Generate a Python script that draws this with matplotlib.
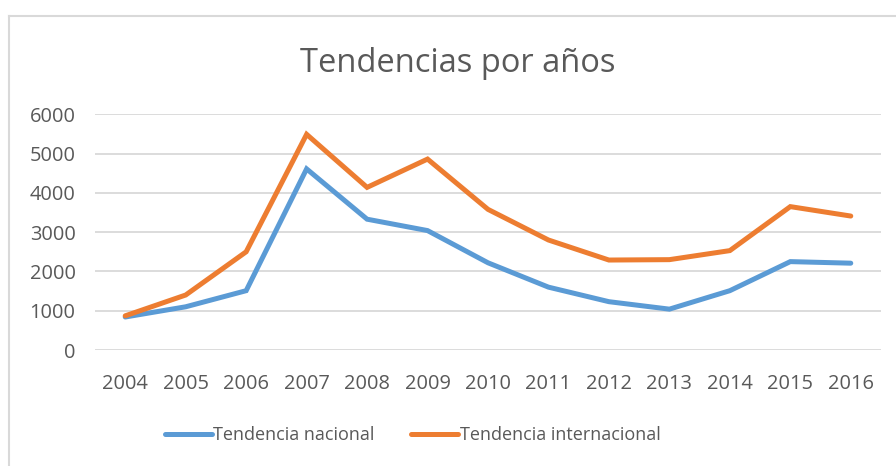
import matplotlib
matplotlib.use('Agg')
import matplotlib.pyplot as plt
from matplotlib.lines import Line2D

years = ['2004', '2005', '2006', '2007', '2008', '2009', '2010',
         '2011', '2012', '2013', '2014', '2015', '2016']
nacional = [840, 1100, 1510, 4610, 3330, 3040, 2220, 1600, 1230, 1040, 1510, 2250, 2210]
internacional = [870, 1400, 2500, 5490, 4140, 4860, 3580, 2800, 2290, 2300, 2530, 3650, 3410]
labels = ['Tendencia nacional', 'Tendencia internacional']

blue = '#5B9BD5'
orange = '#ED7D31'
txt = '#595959'
grid = '#D9D9D9'

plt.rcParams['font.family'] = ['Open Sans', 'DejaVu Sans']

fig = plt.figure(figsize=(8.96, 4.66), dpi=100)
ax = fig.add_axes([95/896, 1-350/466, (881-95)/896, (350-114.3)/466])

x = range(len(years))
ax.plot(x, nacional, color=blue, lw=3.6, solid_capstyle='round', solid_joinstyle='miter', label=labels[0])
ax.plot(x, internacional, color=orange, lw=3.6, solid_capstyle='round', solid_joinstyle='miter', label=labels[1])

ax.set_xlim(-0.5, len(years)-0.5)
ax.set_ylim(0, 6000)
ax.set_yticks(range(0, 6001, 1000))
ax.set_xticks(list(x))
ax.set_xticklabels(years)
ax.grid(axis='y', color=grid, lw=1.3)
ax.set_axisbelow(True)
for s in ax.spines.values():
    s.set_visible(False)
ax.tick_params(length=0, labelsize=14.4, labelcolor=txt)
ax.tick_params(axis='y', pad=14)
ax.tick_params(axis='x', pad=17)

fig.text(0.5106, 1-72/466, 'Tendencias por años', ha='center', va='baseline',
         fontsize=23.5, color=txt)

# chart border (left and top visible)
fig.add_artist(Line2D([8.5/896, 8.5/896], [0, 1-15.5/466], color=grid, lw=1.5))
fig.add_artist(Line2D([8.5/896, 1], [1-15.5/466, 1-15.5/466], color=grid, lw=1.5))

fig.legend(loc='center', bbox_to_anchor=(0.4604, 1-435/466), ncol=2, frameon=False,
           fontsize=13, labelcolor=txt, handlelength=2.6, handletextpad=0.1,
           columnspacing=2.0)

fig.savefig('out.png', dpi=100)
